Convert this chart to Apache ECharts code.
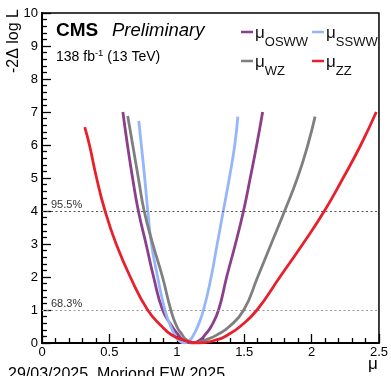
<!DOCTYPE html>
<html>
<head>
<meta charset="utf-8">
<script src="https://cdn.jsdelivr.net/npm/echarts@6/dist/echarts.min.js"></script>
<style>
html,body{margin:0;padding:0;background:#fff;}
#chart{width:391px;height:376px;}
</style>
</head>
<body>
<div id="chart"></div>
<script>
// ---- data (mu, -2 delta log L) ----
const osww = [[0.600,7.0],[0.634,6],[0.672,5],[0.715,4],[0.772,3],[0.828,2],[0.895,1],[0.965,0.5],[1.01,0.25],[1.045,0.1],[1.11,0],[1.175,0.1],[1.21,0.25],[1.255,0.5],[1.31,1],[1.37,2],[1.435,3],[1.495,4],[1.545,5],[1.593,6],[1.637,7.0]];
const ssww = [[0.718,6.73],[0.737,6],[0.762,5],[0.785,4],[0.812,3],[0.858,2],[0.912,1],[0.955,0.5],[0.985,0.25],[1.01,0.1],[1.055,0],[1.10,0.1],[1.125,0.25],[1.155,0.5],[1.198,1],[1.255,2],[1.30,3],[1.345,4],[1.39,5],[1.43,6],[1.453,6.86]];
const wz = [[0.636,6.88],[0.673,6],[0.715,5],[0.758,4],[0.822,3],[0.894,2],[0.956,1],[1.00,0.5],[1.04,0.25],[1.07,0.1],[1.12,0],[1.22,0.1],[1.30,0.25],[1.39,0.5],[1.497,1],[1.60,2],[1.70,3],[1.80,4],[1.895,5],[1.972,6],[2.026,6.86]];
const zz = [[0.317,6.54],[0.352,6],[0.405,5],[0.468,4],[0.55,3],[0.655,2],[0.784,1],[0.89,0.5],[0.96,0.25],[1.04,0.1],[1.16,0],[1.30,0.1],[1.38,0.25],[1.47,0.5],[1.595,1],[1.765,2],[1.935,3],[2.095,4],[2.234,5],[2.365,6],[2.48,7.0]];
const seriesNames = ['OSWW','SSWW','WZ','ZZ'];
const seriesColors = ['#8b3f8b','#95b6fb','#7f7f7f','#e8202c'];
const refLevels = [4, 1];
const refLabels = ['95.5%', '68.3%'];

const chart = echarts.init(document.getElementById('chart'), null, {renderer:'canvas'});
const FONT = 'Liberation Sans, Arial, sans-serif';
const dataSets = [osww, ssww, wz, zz];

const series = dataSets.map((d,i)=>({
  name: seriesNames[i],
  type: 'line',
  data: d,
  smooth: 0.5,
  showSymbol: false,
  symbol: 'none',
  lineStyle: {color: seriesColors[i], width: 2.8},
  itemStyle: {color: seriesColors[i]},
  z: 3 + i
}));
series.push({
  type: 'line', data: [], silent: true,
  markLine: {
    symbol: 'none', silent: true,
    data: refLevels.map((v,i)=>({
      yAxis: v,
      lineStyle: {color: i===0 ? '#555' : '#9a9a9a', type: [2,2.5], width: 1},
      label: {show: true, formatter: refLabels[i], position: 'insideStartTop', distance: [9,1], color: '#333', fontSize: 11, fontFamily: FONT}
    }))
  }
});

const richLegend = {
  m: {fontSize: 17, fontFamily: FONT, color: '#111', lineHeight: 20, verticalAlign: 'bottom'},
  s: {fontSize: 13, fontFamily: FONT, color: '#111', lineHeight: 20, verticalAlign: 'bottom', padding: [0,0,-7,0]}
};
function legendOf(names, left){
  return {
    data: names.map(n=>({name:n, icon:'rect'})),
    orient: 'vertical', left: left, top: 20,
    itemWidth: 12, itemHeight: 2.5, itemGap: 5,
    formatter: n => '{m|μ}{s|' + n + '}',
    textStyle: {rich: richLegend, padding: [0,0,0,-3]},
    selectedMode: false
  };
}

chart.setOption({
  animation: false,
  backgroundColor: '#fff',
  grid: {left: 42, right: 10, top: 13, bottom: 33, show: true, borderColor: '#000', borderWidth: 1.5, backgroundColor: 'transparent'},
  legend: [legendOf(['OSWW','WZ'], 236), legendOf(['SSWW','ZZ'], 307)],
  xAxis: {
    type: 'value', min: 0, max: 2.5, interval: 0.5,
    axisLine: {show: true, onZero: false, lineStyle: {color: '#000', width: 2}},
    axisTick: {show: true, inside: true, length: 9, lineStyle: {color: '#000', width: 1.3}},
    minorTick: {show: true, splitNumber: 5, length: 5, lineStyle: {color: '#000', width: 1.3}},
    splitLine: {show: false},
    axisLabel: {color: '#000', fontSize: 13, fontFamily: FONT, margin: 3,
      formatter: v => String(v)}
  },
  yAxis: {
    type: 'value', min: 0, max: 10, interval: 1,
    axisLine: {show: true, onZero: false, lineStyle: {color: '#000', width: 2}},
    axisTick: {show: true, inside: true, length: 9, lineStyle: {color: '#000', width: 1.3}},
    minorTick: {show: true, splitNumber: 5, length: 5, lineStyle: {color: '#000', width: 1.3}},
    splitLine: {show: false},
    axisLabel: {color: '#000', fontSize: 13, fontFamily: FONT, margin: 4}
  },
  graphic: [
    {type: 'text', x: 14, y: 9, rotation: Math.PI/2,
     style: {text: '-2Δ log L', font: '16px ' + FONT, fill: '#000', align: 'right', verticalAlign: 'middle'}},
    {type: 'text', x: 373, y: 364,
     style: {text: 'μ', font: '17px ' + FONT, fill: '#000', align: 'center', verticalAlign: 'middle'}},
    {type: 'text', x: 56, y: 31,
     style: {text: 'CMS', font: 'bold 19px ' + FONT, fill: '#000', align: 'left', verticalAlign: 'middle'}},
    {type: 'text', x: 112, y: 31,
     style: {text: 'Preliminary', font: 'italic 18.5px ' + FONT, fill: '#000', align: 'left', verticalAlign: 'middle'}},
    {type: 'text', x: 56, y: 56,
     style: {text: '{a|138 fb}{b|-1}{a| (13 TeV)}', fill: '#000', align: 'left', verticalAlign: 'middle',
       rich: {a: {fontSize: 14, fontFamily: FONT, color: '#000', verticalAlign: 'bottom', lineHeight: 17},
              b: {fontSize: 9.5, fontFamily: FONT, color: '#000', verticalAlign: 'bottom', lineHeight: 17, padding: [0,0,6,0]}}}},
    {type: 'text', x: 8, y: 367,
     style: {text: '29/03/2025, Moriond EW 2025', font: '16px ' + FONT, fill: '#000', align: 'left', verticalAlign: 'top'}}
  ],
  series: series
});
</script>
</body>
</html>
